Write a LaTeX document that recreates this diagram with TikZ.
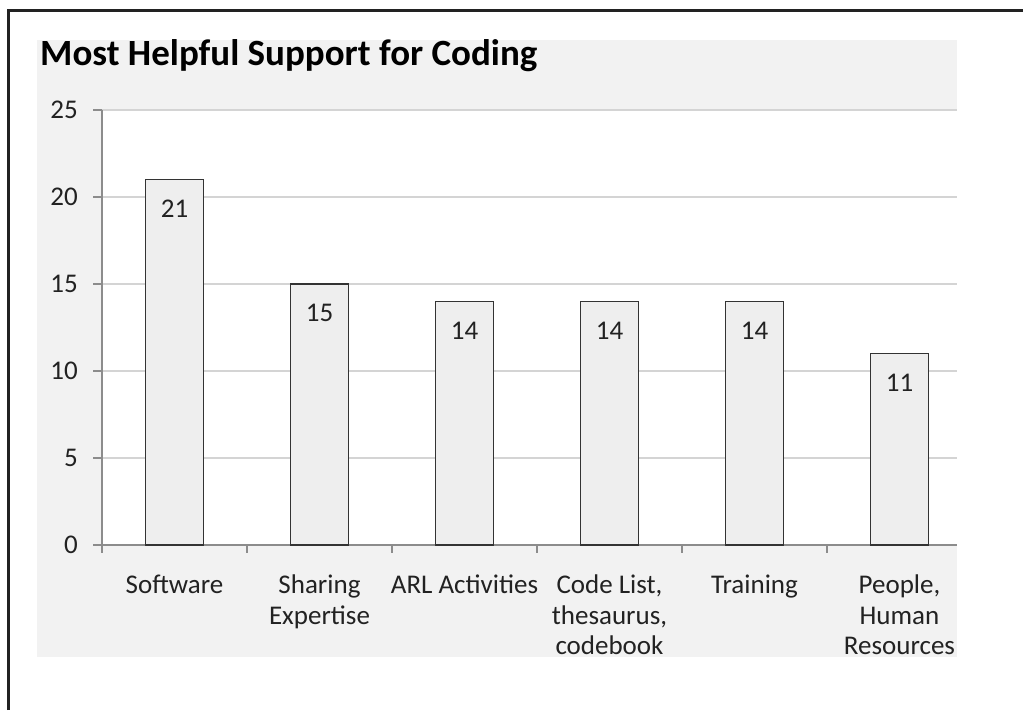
\documentclass[tikz,border=0pt]{standalone}
\usepackage{fontspec}
\setmainfont{Carlito}
\definecolor{framecol}{HTML}{222222}
\definecolor{chartbg}{HTML}{F2F2F2}
\definecolor{barfill}{HTML}{EEEEEE}
\definecolor{barline}{HTML}{333333}
\definecolor{gridcol}{HTML}{D4D4D4}
\definecolor{axiscol}{HTML}{8C8C8C}
\definecolor{txt}{HTML}{222222}
\tikzset{
  axisline/.style={draw=axiscol, line width=1.3pt},
  gridline/.style={draw=gridcol, line width=1.5pt},
  barbox/.style={fill=barfill, draw=barline, line width=1.3pt},
  ticklabel/.style={font=\fontsize{27}{30}\selectfont, text=txt, inner sep=0pt},
  catlabel/.style={font=\fontsize{27}{30.5}\selectfont, text=txt, align=center, inner sep=0pt},
  vallabel/.style={font=\fontsize{27}{30}\selectfont, text=txt, inner sep=0pt}
}
\begin{document}
\begin{tikzpicture}[x=1pt, y=-1pt]
  \useasboundingbox (0,0) rectangle (1023,710);
  % frame and chart area
  \draw[framecol, line width=3pt] (8.5,710) -- (8.5,10.5) -- (1023,10.5);
  \fill[chartbg] (37,40) rectangle (957,657);
  \fill[white] (102,110) rectangle (957,545);
  \node[anchor=base west, inner sep=0pt, text=black,
        font=\bfseries\fontsize{37}{44}\selectfont] (title) at (40,65)
        {Most Helpful Support for Coding};
  % grid and y axis
  \foreach \v in {5,10,...,25}
    \draw[gridline] (102,545-17.4*\v) -- (957,545-17.4*\v);
  \foreach \v in {0,5,...,25} {
    \draw[axisline] (93,545-17.4*\v) -- (102,545-17.4*\v);
    \node[ticklabel, anchor=east] (y\v) at (78,545-17.4*\v) {\v};
  }
  \draw[axisline] (102,110) -- (102,553);
  \draw[axisline] (102,545) -- (957,545);
  \foreach \i in {1,...,5}
    \draw[axisline] (102+145*\i,545) -- (102+145*\i,553);
  % bars
  \foreach \val/\lab [count=\i from 0] in {21/Software, 15/{Sharing\\Expertise},
      14/ARL Activities, 14/{Code List,\\thesaurus,\\codebook}, 14/Training,
      11/{People,\\Human\\Resources}} {
    \draw[barbox] (145.5+145*\i,545) rectangle (203.5+145*\i,545-17.4*\val);
    \node[vallabel] (v\i) at (174.5+145*\i,574-17.4*\val) {\val};
    \node[catlabel, anchor=north] (c\i) at (174.5+145*\i,575) {\lab};
  }
\end{tikzpicture}
\end{document}
